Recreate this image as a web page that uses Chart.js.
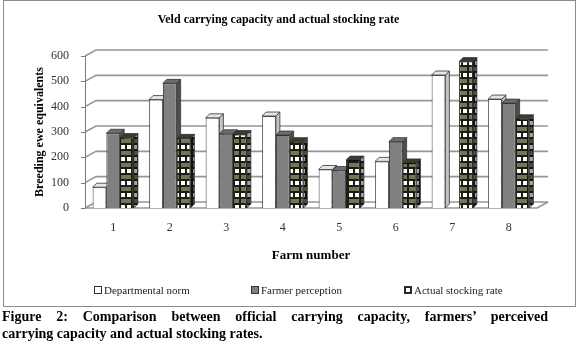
<!DOCTYPE html>
<html>
<head>
<meta charset="utf-8">
<script src="https://cdn.jsdelivr.net/npm/chart.js@4"></script>
<style>
  body { margin: 0; background: #fff; width: 580px; height: 345px; position: relative; overflow: hidden; font-family: "Liberation Serif", serif; }
  #frame { position: absolute; left: 3px; top: 0; width: 571px; height: 305px; border: 1px solid #8c8c8c; }
  #wrap { position: absolute; left: 0; top: 0; width: 580px; height: 305px; }
  .leg { position: absolute; top: 283px; font-size: 11px; color: #222; white-space: nowrap; line-height: 14px; }
  .leg i { display: inline-block; width: 6px; height: 6px; border: 1px solid #333; margin-right: 2px; vertical-align: 0px; }
  #caption { position: absolute; left: 2px; top: 308px; width: 546px; font: bold 14px "Liberation Serif", serif; line-height: 17px; color: #000; }
  #caption .l1 { text-align: justify; text-align-last: justify; white-space: nowrap; }
</style>
</head>
<body>
<div id="frame"></div>
<div id="wrap"><canvas id="chart" width="580" height="305"></canvas></div>
<div class="leg" style="left:94px"><i style="background:#fff"></i>Departmental norm</div>
<div class="leg" style="left:251px"><i style="background:#7f7f7f"></i>Farmer perception</div>
<div class="leg" style="left:404px"><i id="patSwatch" style="background:#333"></i>Actual stocking rate</div>
<div id="caption"><div class="l1">Figure 2: Comparison between official carrying capacity, farmers’ perceived</div><div>carrying capacity and actual stocking rates.</div></div>
<script>
const farms = ["1", "2", "3", "4", "5", "6", "7", "8"];
const departmental = [82, 428, 356, 363, 152, 184, 525, 430];
const farmer = [295, 492, 293, 288, 148, 262, null, 414];
const actual = [278, 275, 290, 262, 189, 178, 578, 352];
const yTicks = [0, 100, 200, 300, 400, 500, 600];

// brick-like checker used for "Actual stocking rate"
function makePattern() {
  const c = document.createElement('canvas');
  c.width = 12; c.height = 12;
  const g = c.getContext('2d');
  g.fillStyle = '#1c1c14';
  g.fillRect(0, 0, 12, 12);
  g.fillStyle = '#ffffff';
  g.fillRect(1, 1, 4, 4);
  g.fillRect(7, 1, 4, 4);
  g.fillStyle = '#75755a';
  g.fillRect(1, 7, 10, 4);
  return c;
}
const patCanvas = makePattern();
const ctx = document.getElementById('chart').getContext('2d');
const pattern = ctx.createPattern(patCanvas, 'repeat');
document.getElementById('patSwatch').style.background = 'url(' + patCanvas.toDataURL() + ')';

const DX = 4, DY = -4;     // bar depth
const WX = 11, WY = -6;    // back wall offset
const faces = [
  { side: '#c4c4c4', top: '#e6e6e6' },
  { side: '#4e4e4e', top: '#6c6c6c' },
  { side: '#2a2a20', top: '#3a3a30' }
];

const threeD = {
  id: 'threeD',
  beforeDatasetsDraw(chart) {
    const c = chart.ctx;
    const a = chart.chartArea;
    const y = chart.scales.y;
    c.save();
    // back wall gridlines
    c.strokeStyle = '#969696';
    c.lineWidth = 1.6;
    yTicks.forEach(v => {
      const py = y.getPixelForValue(v);
      c.beginPath();
      c.moveTo(a.left, py);
      c.lineTo(a.left + WX, py + WY);
      c.lineTo(a.right + WX, py + WY);
      c.stroke();
    });
    // floor
    c.beginPath();
    c.moveTo(a.left, a.bottom);
    c.lineTo(a.right, a.bottom);
    c.lineTo(a.right + WX, a.bottom + WY);
    c.stroke();
    // front value axis with ticks
    c.strokeStyle = '#7a7a7a';
    c.lineWidth = 1;
    c.beginPath();
    c.moveTo(a.left + 0.5, y.getPixelForValue(600));
    c.lineTo(a.left + 0.5, a.bottom);
    yTicks.forEach(v => {
      const py = Math.round(y.getPixelForValue(v)) + 0.5;
      c.moveTo(a.left - 4, py);
      c.lineTo(a.left, py);
    });
    c.stroke();

    // side and top faces of bars
    const bars = [];
    chart.data.datasets.forEach((ds, i) => {
      chart.getDatasetMeta(i).data.forEach((el, j) => {
        if (ds.data[j] == null) return;
        bars.push({ el, i });
      });
    });
    bars.sort((p, q) => p.el.x - q.el.x);
    bars.forEach(({ el, i }) => {
      const p = el.getProps(['x', 'y', 'base', 'width'], true);
      const l = p.x - p.width / 2, r = p.x + p.width / 2;
      c.strokeStyle = '#333';
      c.lineWidth = 0.8;
      c.fillStyle = i === 2 ? pattern : faces[i].side;
      c.beginPath();
      c.moveTo(r, p.y);
      c.lineTo(r + DX, p.y + DY);
      c.lineTo(r + DX, p.base + DY);
      c.lineTo(r, p.base);
      c.closePath();
      c.fill();
      if (i === 2) { c.fillStyle = 'rgba(0,0,0,0.35)'; c.fill(); }
      c.stroke();
      c.fillStyle = faces[i].top;
      c.beginPath();
      c.moveTo(l, p.y);
      c.lineTo(l + DX, p.y + DY);
      c.lineTo(r + DX, p.y + DY);
      c.lineTo(r, p.y);
      c.closePath();
      c.fill();
      c.stroke();
    });
    c.restore();
  }
};

const serif = '"Liberation Serif", "Times New Roman", serif';

new Chart(ctx, {
  type: 'bar',
  data: {
    labels: farms,
    datasets: [
      { label: 'Departmental norm', data: departmental, backgroundColor: '#ffffff', borderColor: '#4a4a4a', borderWidth: 1 },
      { label: 'Farmer perception', data: farmer, backgroundColor: '#808080', borderColor: '#333333', borderWidth: 1 },
      { label: 'Actual stocking rate', data: actual, backgroundColor: pattern, borderColor: '#111111', borderWidth: 1 }
    ]
  },
  options: {
    responsive: false,
    animation: false,
    layout: { padding: { left: 20, right: 43, top: 0, bottom: 38 } },
    datasets: { bar: { categoryPercentage: 0.73, barPercentage: 1.0 } },
    plugins: {
      legend: { display: false },
      tooltip: { enabled: false },
      title: {
        display: true,
        text: 'Veld carrying capacity and actual stocking rate',
        color: '#000',
        font: { family: serif, size: 12, weight: 'bold' },
        padding: { top: 13, bottom: 28.6 }
      }
    },
    scales: {
      x: {
        grid: { display: false, drawTicks: false },
        border: { display: false },
        ticks: { color: '#333', font: { family: serif, size: 12 }, padding: 13 },
        title: {
          display: true, text: 'Farm number', color: '#000',
          font: { family: serif, size: 13, weight: 'bold' },
          padding: { top: -1, bottom: 4 }
        }
      },
      y: {
        min: 0, max: 600,
        afterBuildTicks(scale) { scale.ticks = yTicks.map(v => ({ value: v })); },
        grid: { display: false, drawTicks: false },
        border: { display: false },
        ticks: { color: '#333', font: { family: serif, size: 12 }, padding: 16 },
        title: {
          display: true, text: 'Breeding ewe equivalents', color: '#000',
          font: { family: serif, size: 12, weight: 'bold' },
          padding: { top: 12.8, bottom: -12.2 }
        }
      }
    }
  },
  plugins: [threeD]
});
</script>
</body>
</html>
